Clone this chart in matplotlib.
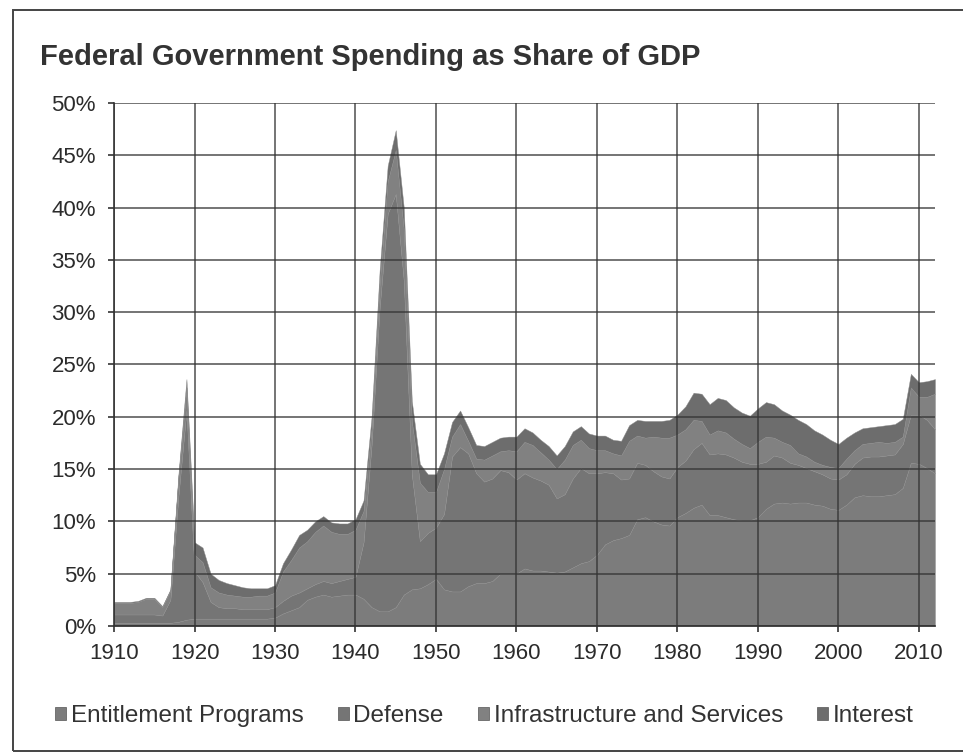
import numpy as np
import matplotlib
matplotlib.use("Agg")
import matplotlib.pyplot as plt
from matplotlib.patches import Patch, Rectangle
from matplotlib.ticker import FuncFormatter, MultipleLocator

plt.rcParams['font.family'] = ['Liberation Sans', 'DejaVu Sans']

# share of GDP (%) by fiscal year, 1910-2012
years = list(range(1910, 2013))

entitlement = [
    0.3, 0.3, 0.3, 0.3, 0.3, 0.3, 0.3, 0.3, 0.4, 0.6,   # 1910s
    0.7, 0.7, 0.7, 0.7, 0.7, 0.7, 0.7, 0.7, 0.7, 0.7,   # 1920s
    0.8, 1.2, 1.5, 1.8, 2.5, 2.8, 3.0, 2.8, 2.9, 3.0,   # 1930s
    3.0, 2.6, 1.8, 1.4, 1.4, 1.8, 3.0, 3.5, 3.6, 4.0,   # 1940s
    4.5, 3.5, 3.3, 3.3, 3.8, 4.1, 4.1, 4.3, 5.0, 5.0,   # 1950s
    5.0, 5.5, 5.3, 5.3, 5.2, 5.1, 5.2, 5.6, 6.0, 6.2,   # 1960s
    6.8, 7.8, 8.2, 8.4, 8.7, 10.2, 10.4, 10.0, 9.7, 9.6,  # 1970s
    10.4, 10.8, 11.3, 11.6, 10.6, 10.6, 10.4, 10.2, 10.1, 10.1,  # 1980s
    10.4, 11.2, 11.7, 11.8, 11.7, 11.8, 11.8, 11.6, 11.5, 11.2,  # 1990s
    11.1, 11.6, 12.3, 12.5, 12.4, 12.4, 12.5, 12.6, 13.2, 15.6,  # 2000s
    15.5, 15.1, 14.6,
]

defense = [
    0.8, 0.8, 0.8, 0.8, 0.8, 0.8, 0.7, 2.2, 12.0, 20.0,
    4.5, 3.5, 1.6, 1.1, 1.0, 1.0, 0.9, 0.9, 0.9, 0.9,
    1.0, 1.2, 1.4, 1.4, 1.1, 1.2, 1.3, 1.3, 1.4, 1.5,
    1.7, 5.4, 15.5, 29.0, 38.0, 39.5, 30.0, 11.0, 4.5, 4.9,
    4.9, 7.2, 12.9, 13.8, 12.7, 10.5, 9.7, 9.8, 9.9, 9.7,
    9.0, 9.1, 8.9, 8.6, 8.3, 7.1, 7.4, 8.5, 9.1, 8.4,
    7.8, 6.9, 6.4, 5.6, 5.4, 5.4, 5.0, 4.8, 4.6, 4.5,
    4.8, 5.0, 5.6, 5.9, 5.8, 5.9, 6.0, 5.9, 5.6, 5.4,
    5.1, 4.5, 4.6, 4.3, 3.9, 3.6, 3.3, 3.2, 3.0, 2.9,
    2.9, 2.9, 3.2, 3.6, 3.8, 3.8, 3.8, 3.8, 4.2, 4.6,
    4.7, 4.6, 4.2,
]

infrastructure = [
    1.1, 1.1, 1.1, 1.2, 1.5, 1.5, 0.8, 0.9, 1.8, 2.2,
    1.6, 1.9, 1.4, 1.4, 1.3, 1.2, 1.2, 1.2, 1.3, 1.3,
    1.4, 2.8, 3.4, 4.3, 4.5, 5.0, 5.3, 4.9, 4.5, 4.3,
    4.5, 3.0, 1.6, 2.3, 3.1, 4.2, 4.9, 5.1, 5.6, 3.9,
    3.4, 4.3, 1.9, 2.2, 1.2, 1.4, 2.1, 2.2, 1.8, 2.1,
    2.7, 3.0, 3.1, 2.7, 2.4, 2.8, 3.3, 3.2, 2.7, 2.4,
    2.2, 2.1, 1.9, 2.3, 3.6, 2.6, 2.6, 3.3, 3.7, 3.9,
    3.1, 3.0, 2.8, 2.1, 1.9, 2.2, 2.1, 1.8, 1.7, 1.5,
    2.1, 2.4, 1.7, 1.5, 1.7, 1.1, 1.1, 0.9, 0.9, 1.1,
    1.1, 1.5, 1.3, 1.3, 1.3, 1.4, 1.2, 1.2, 0.7, 2.6,
    1.7, 2.2, 3.4,
]

interest = [
    0.1, 0.1, 0.1, 0.1, 0.1, 0.1, 0.1, 0.1, 0.3, 0.8,
    1.2, 1.4, 1.3, 1.2, 1.1, 1.0, 0.9, 0.8, 0.7, 0.7,
    0.7, 0.8, 1.0, 1.2, 1.1, 1.0, 0.9, 0.9, 1.0, 1.0,
    1.0, 1.0, 1.1, 1.3, 1.5, 1.9, 2.1, 1.9, 1.8, 1.7,
    1.7, 1.5, 1.4, 1.3, 1.3, 1.3, 1.3, 1.3, 1.3, 1.3,
    1.4, 1.3, 1.2, 1.2, 1.3, 1.3, 1.3, 1.3, 1.3, 1.4,
    1.4, 1.4, 1.3, 1.4, 1.5, 1.5, 1.6, 1.5, 1.6, 1.7,
    1.9, 2.2, 2.6, 2.6, 2.9, 3.1, 3.1, 3.0, 3.0, 3.1,
    3.2, 3.3, 3.2, 3.0, 2.9, 3.2, 3.1, 3.0, 2.9, 2.6,
    2.3, 2.0, 1.7, 1.5, 1.5, 1.5, 1.7, 1.7, 1.7, 1.3,
    1.4, 1.5, 1.4,
]

labels = ['Entitlement Programs', 'Defense', 'Infrastructure and Services', 'Interest']
colors = ['#7c7c7c', '#757575', '#818181', '#6d6d6d']

fig = plt.figure(figsize=(9.63, 7.53), dpi=100)
ax = fig.add_axes([0.1184, 0.1687, 0.8525, 0.6946])

ax.stackplot(years, entitlement, defense, infrastructure, interest,
             colors=colors, edgecolor='#8c8c8c', linewidth=0.3)

ax.set_xlim(1910, 2012)
ax.set_ylim(0, 50)
ax.xaxis.set_major_locator(MultipleLocator(10))
ax.yaxis.set_major_locator(MultipleLocator(5))
ax.yaxis.set_major_formatter(FuncFormatter(lambda v, p: '%d%%' % v))

ax.grid(True, color='#333333', linewidth=1.2, alpha=0.8)
ax.set_axisbelow(False)
for s in ['top', 'right']:
    ax.spines[s].set_visible(False)
for s in ['left', 'bottom']:
    ax.spines[s].set_color('#333333')
    ax.spines[s].set_linewidth(1.2)

ax.tick_params(axis='both', colors='#333333', labelsize=16, length=4, width=1.2)
ax.tick_params(axis='x', pad=8)
ax.tick_params(axis='y', pad=9)
for t in ax.get_xticklabels() + ax.get_yticklabels():
    t.set_color('#2b2b2b')

fig.text(0.042, 0.924, 'Federal Government Spending as Share of GDP',
         fontsize=21, fontweight='bold', color='#333333', va='center', ha='left')

handles = [Patch(facecolor=c, edgecolor='#555555', linewidth=0.5) for c in colors]
fig.legend(handles, labels, loc='center', bbox_to_anchor=(0.503, 0.049), ncol=4,
           frameon=False, fontsize=17.5, handlelength=0.45, handleheight=0.45,
           handletextpad=0.2, columnspacing=1.4, labelcolor='#333333')

# outer chart frame
fig.add_artist(Rectangle((0.0135, 0.0027), 1.0, 0.984, transform=fig.transFigure,
                         fill=False, edgecolor='#444444', linewidth=1.4))

fig.savefig('out.png', dpi=100)
